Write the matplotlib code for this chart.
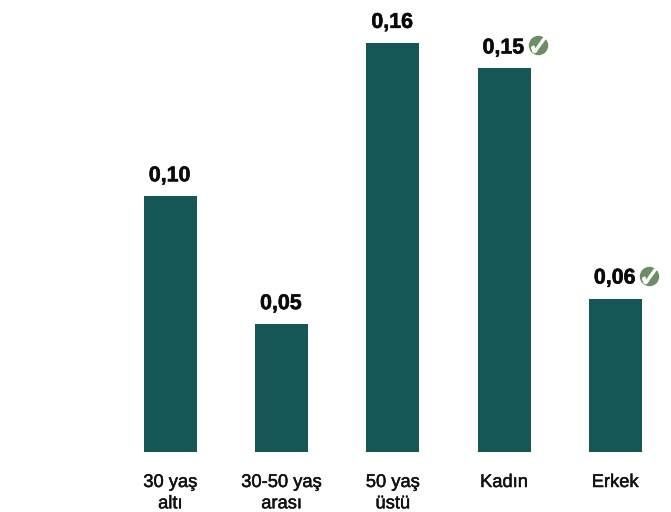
import matplotlib
matplotlib.use("Agg")
import matplotlib.pyplot as plt
import matplotlib.patheffects as pe
from matplotlib.transforms import offset_copy

categories = ["30 yaş\naltı", "30-50 yaş\narası", "50 yaş\nüstü", "Kadın", "Erkek"]
values = [0.10, 0.05, 0.16, 0.15, 0.06]
value_labels = ["0,10", "0,05", "0,16", "0,15", "0,06"]
checked = [False, False, False, True, True]

W, H = 671, 512
BASE = 452
fig = plt.figure(figsize=(W / 100, H / 100), dpi=100)
ax = fig.add_axes([0, (H - BASE) / H, 1, BASE / H])
STEP = 111.25
X0 = 170.3
ax.set_xlim(-X0 / STEP, (W - X0) / STEP)
ax.set_ylim(0, BASE / 2557)
ax.axis("off")
plt.rcParams["font.family"] = "Liberation Sans"

xs = list(range(len(values)))
ax.bar(xs, values, width=53 / STEP, color="#155756")

def px(dx, dy):
    return offset_copy(ax.transData, fig=fig, x=dx, y=dy, units="dots")

for x, v, lab, c in zip(xs, values, value_labels, checked):
    ax.text(x, v, lab, transform=px(-0.5, 15), ha="center", va="baseline",
            fontsize=15.4, fontweight="bold", color="#0a0a0a",
            path_effects=[pe.withStroke(linewidth=0.4, foreground="#0a0a0a")])
    if c:
        ax.plot([x], [v], marker="o", ms=14, mfc="#6b8f62", mec="none", transform=px(34, 23), clip_on=False)
        ax.plot([x], [v], marker="$\u2713$", ms=12, mfc="white", mec="white", mew=0.5,
                transform=px(35, 24), clip_on=False)

for x, cat in zip(xs, categories):
    ax.annotate(cat, xy=(x, 0), xytext=(0, -22), textcoords="offset pixels", ha="center", va="top",
                fontsize=13.2, color="#111111", linespacing=1.33, annotation_clip=False,
                path_effects=[pe.withStroke(linewidth=0.35, foreground="#111111")])

fig.savefig("out.png", dpi=100)
